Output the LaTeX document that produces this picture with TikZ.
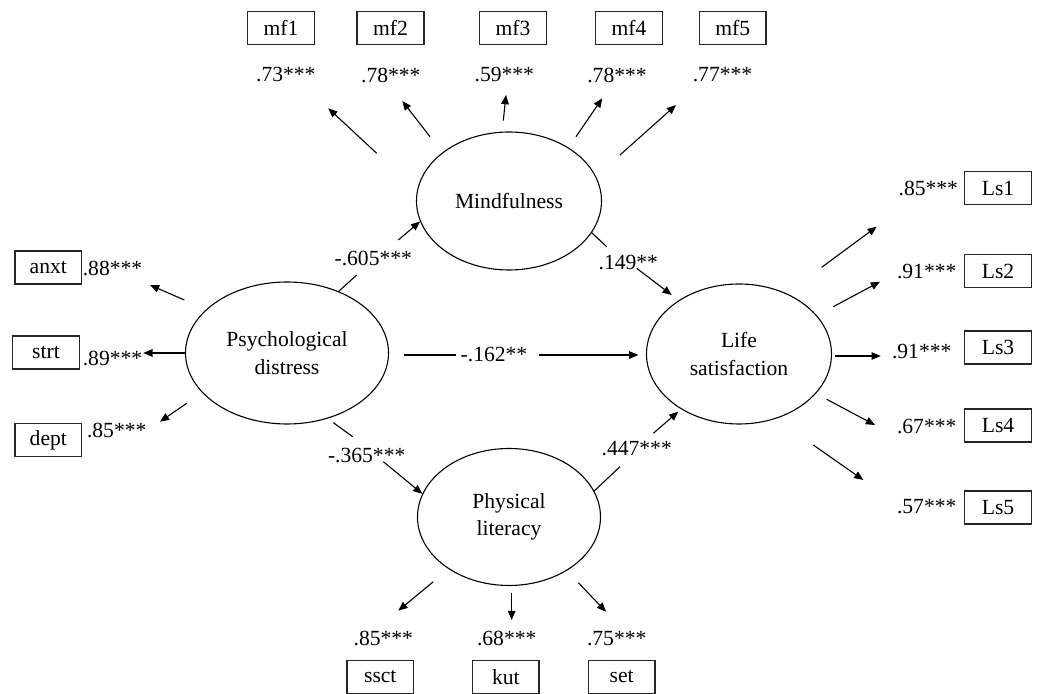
\documentclass[tikz,border=0pt]{standalone}
\usepackage{fontspec}
\setmainfont{Liberation Serif}
\usetikzlibrary{arrows.meta,shapes.geometric}
\begin{document}
\begin{tikzpicture}[x=0.5pt,y=-0.5pt,
  font=\fontsize{10.8}{13.8}\selectfont,
  >={Triangle[length=4.6pt,width=3.8pt]},
  latent/.style={draw,ellipse,line width=0.55pt,inner sep=0pt,align=center},
  obs/.style={draw=black!85,line width=0.75pt,minimum width=33.3pt,minimum height=16.3pt,inner sep=0pt},
  lab/.style={inner sep=0pt},
  ln/.style={line width=0.55pt},
  arr/.style={->,line width=0.55pt}]
\useasboundingbox (0,0) rectangle (1040,694);
% latent variables
\node[latent,minimum width=92.5pt,minimum height=69pt] (M) at (509,201) {Mindfulness};
\node[latent,minimum width=101.5pt,minimum height=71pt] (PD) at (287,353) {Psychological\\distress};
\node[latent,minimum width=92.5pt,minimum height=70pt] (LS) at (739,354) {Life\\satisfaction};
\node[latent,minimum width=91.5pt,minimum height=68.5pt] (PL) at (509,517) {Physical\\literacy};
% observed indicators
\node[obs] (mf1) at (281,28) {mf1};
\node[obs] (mf2) at (390.5,28) {mf2};
\node[obs] (mf3) at (513,28) {mf3};
\node[obs] (mf4) at (629,28) {mf4};
\node[obs] (mf5) at (732.7,28) {mf5};
\node[obs] (anxt) at (48.3,267.5) {anxt};
\node[obs] (strt) at (46,352.5) {strt};
\node[obs] (dept) at (48.3,440) {dept};
\node[obs] (Ls1) at (998,188) {Ls1};
\node[obs] (Ls2) at (998,271) {Ls2};
\node[obs] (Ls3) at (998,347.5) {Ls3};
\node[obs] (Ls4) at (998,425.5) {Ls4};
\node[obs] (Ls5) at (998,507.5) {Ls5};
\node[obs] (ssct) at (380.3,677) {ssct};
\node[obs] (kut) at (505.8,677) {kut};
\node[obs] (set) at (621.7,677) {set};
% loading labels
\node[lab] (l1) at (285.8,75) {.73***};
\node[lab] (l2) at (390.8,75) {.78***};
\node[lab] (l3) at (504.3,75) {.59***};
\node[lab] (l4) at (617,75) {.78***};
\node[lab] (l5) at (722.5,75) {.77***};
\node[lab] (l6) at (112.5,268.3) {.88***};
\node[lab] (l7) at (112.5,358.3) {.89***};
\node[lab] (l8) at (116.7,430) {.85***};
\node[lab] (l9) at (928.3,188.3) {.85***};
\node[lab] (l10) at (926.7,271.7) {.91***};
\node[lab] (l11) at (921.7,351.7) {.91***};
\node[lab] (l12) at (926.7,426.7) {.67***};
\node[lab] (l13) at (926.7,506.7) {.57***};
\node[lab] (l14) at (383.3,638.3) {.85***};
\node[lab] (l15) at (506.7,638.3) {.68***};
\node[lab] (l16) at (616.7,638.3) {.75***};
% path labels
\node[lab] (p1) at (373.3,258.3) {-.605***};
\node[lab] (p2) at (366.7,456) {-.365***};
\node[lab] (p3) at (628.3,262.7) {.149**};
\node[lab] (p4) at (636.7,448.3) {.447***};
\node[lab] (p5) at (494,355) {-.162**};
% loading arrow ends
\coordinate (a1) at (376.7,153.3); \coordinate (b1) at (328.3,108.3);
\coordinate (a2) at (430,136.7);   \coordinate (b2) at (402.3,101);
\coordinate (a3) at (503.3,120.7); \coordinate (b3) at (506,95);
\coordinate (a4) at (576,136.7);   \coordinate (b4) at (602.3,98.3);
\coordinate (a5) at (620,155);     \coordinate (b5) at (676,105);
\coordinate (a6) at (184.3,300);   \coordinate (b6) at (150,285);
\coordinate (b7) at (143.3,353);
\coordinate (a8) at (186.7,403.3); \coordinate (b8) at (160,421.7);
\coordinate (a9) at (821.7,267.3); \coordinate (b9) at (876.7,226.7);
\coordinate (a10) at (833.3,306.7); \coordinate (b10) at (880,281.7);
\coordinate (a11) at (835,356);    \coordinate (b11) at (880.7,356);
\coordinate (a12) at (826.7,399.3); \coordinate (b12) at (875,425);
\coordinate (a13) at (813.3,445);  \coordinate (b13) at (863.3,480);
\coordinate (a14) at (433.3,581.7); \coordinate (b14) at (398.3,610.7);
\coordinate (a15) at (511.7,592.7); \coordinate (b15) at (511.7,620);
\coordinate (a16) at (578.3,582.7); \coordinate (b16) at (606,611.7);
\foreach \i in {1,2,3,4,5,6,8,9,10,11,12,13,14,15,16} {\draw[arr] (a\i) -- (b\i);}
\draw[arr] (PD.west) -- (b7);
% structural path segments
\coordinate (s1) at (356.7,275);   \coordinate (t1) at (398.3,240);
\coordinate (s2a) at (333.3,422.7); \coordinate (s2) at (352.7,436.7); \coordinate (t2) at (383.3,461.7);
\coordinate (s3) at (606.7,246.7); \coordinate (t3) at (636.7,268.3); \coordinate (e3) at (671.7,295);
\coordinate (s4) at (620,466.7);   \coordinate (t4) at (653.3,433.3); \coordinate (e4) at (678.3,411.7);
\coordinate (s5a) at (404,355); \coordinate (s5) at (456,355); \coordinate (t5) at (539.3,355); \coordinate (e5) at (638.3,355);
\draw[ln] (PD.50) -- (s1);
\draw[arr] (t1) -- (M.193);
\draw[ln] (s2a) -- (s2);
\draw[arr] (t2) -- (PL.165);
\draw[ln] (M.-21) -- (s3);
\draw[arr] (t3) -- (e3);
\draw[ln] (PL.17) -- (s4);
\draw[arr] (t4) -- (e4);
\draw[ln] (s5a) -- (s5);
\draw[arr] (t5) -- (e5);
\end{tikzpicture}
\end{document}
